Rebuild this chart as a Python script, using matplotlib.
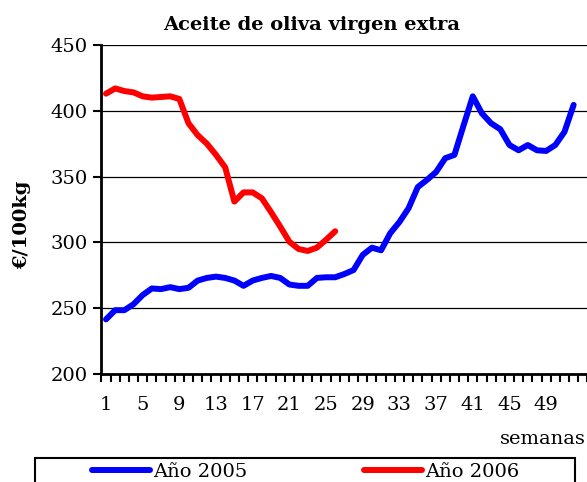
import numpy as np
import matplotlib.pyplot as plt
from matplotlib.patches import Rectangle
from matplotlib.ticker import FixedLocator

# weekly prices, euros per 100 kg
semanas_2005 = list(range(1, 53))
precio_2005 = [241.5, 248.5, 248.5, 253, 260, 265, 264.5, 266, 264.5, 265.5,
               271, 273, 274, 273, 271, 267, 271, 273, 274.5, 273,
               268, 267, 267, 273, 273.5, 273.5, 276, 279, 290.5, 296,
               294, 307, 315.5, 326, 342, 347.5, 353.5, 364, 366.5, 389,
               411, 398, 390.5, 386, 374, 370, 374, 370, 369.5, 374,
               384, 404.5]
semanas_2006 = list(range(1, 27))
precio_2006 = [413, 417, 415, 414, 411, 410, 410.5, 411, 409, 390.5,
               381.5, 375, 366.5, 357, 331, 338, 338, 333.5, 323, 312,
               300.5, 295, 293.5, 296, 302, 308.5]
etiquetas_x = list(range(1, 53, 4))
ticks_y = [200, 250, 300, 350, 400, 450]

W, H = 587, 482
fig = plt.figure(figsize=(W / 100, H / 100), dpi=100)
plt.rcParams['font.family'] = ['DejaVu Serif']
fs = 14

ax = fig.add_axes([101.4 / W, (H - 374) / H, (587.4 - 101.4) / W, (374 - 45) / H])

ax.plot(semanas_2005, precio_2005, color='#0000FF', lw=4.3,
        solid_capstyle='round', solid_joinstyle='round', label='Año 2005')
ax.plot(semanas_2006, precio_2006, color='#FF0000', lw=4.3,
        solid_capstyle='round', solid_joinstyle='round', label='Año 2006')

ax.set_xlim(0.5, 53.5)
ax.set_ylim(200, 450)
ax.set_yticks(ticks_y)
ax.set_xticks(etiquetas_x)
ax.xaxis.set_minor_locator(FixedLocator(np.arange(0.5, 54, 1)))
ax.tick_params(axis='x', which='major', length=0, pad=16, labelsize=fs)
ax.tick_params(axis='x', which='minor', length=6, width=1.5, direction='out')
ax.tick_params(axis='y', length=6, width=1.5, direction='out', pad=4, labelsize=fs)

ax.yaxis.grid(True, color='black', lw=0.9)
ax.set_axisbelow(True)
for s in ['top', 'right']:
    ax.spines[s].set_visible(False)
for s in ['left', 'bottom']:
    ax.spines[s].set_linewidth(2)

fig.text(312 / W, (H - 25) / H, 'Aceite de oliva virgen extra', ha='center', va='center',
         fontsize=fs, fontweight='bold')
fig.text(22 / W, (H - 225) / H, '€/100kg', rotation=90, ha='center', va='center',
         fontsize=fs, fontweight='bold')
fig.text(586 / W, (H - 439) / H, 'semanas', ha='right', va='center', fontsize=fs)

# legend box (bottom cut off by the image edge)
fig.patches.append(Rectangle((35 / W, -0.05), 540 / W, 0.05 + (H - 458) / H,
                             transform=fig.transFigure, fill=False, lw=1.5,
                             edgecolor='black'))
fig.legend(loc='center left', bbox_to_anchor=(92 / W, (H - 472) / H), ncol=2,
           frameon=False, fontsize=fs, handlelength=3.0, handletextpad=0.15,
           columnspacing=6.0, borderpad=0, borderaxespad=0)

fig.savefig('out.png', dpi=100)
